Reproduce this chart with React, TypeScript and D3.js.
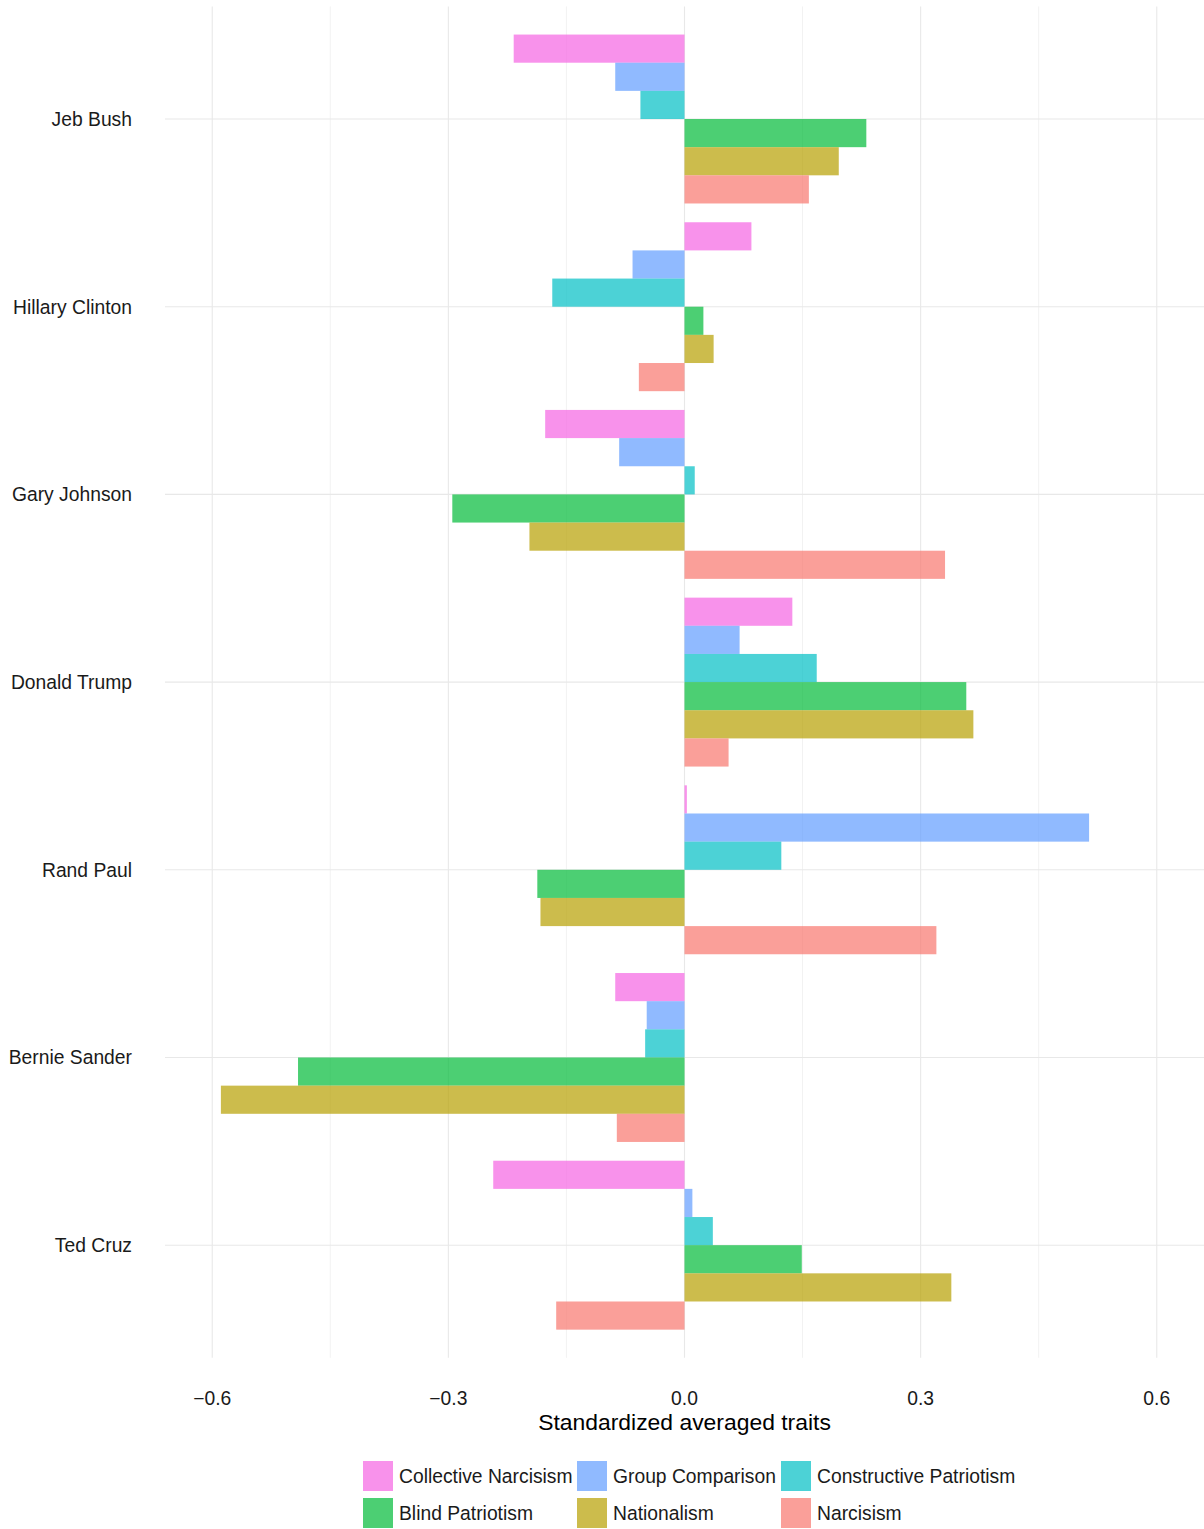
import React from "react";
import * as d3 from "d3";

const categories = ["Jeb Bush", "Hillary Clinton", "Gary Johnson", "Donald Trump", "Rand Paul", "Bernie Sander", "Ted Cruz"];
const traits = ["Collective Narcisism", "Group Comparison", "Constructive Patriotism", "Blind Patriotism", "Nationalism", "Narcisism"];
const traitColors = ["#F564E3", "#619CFF", "#00BFC4", "#00BA38", "#B79F00", "#F8766D"];

const collectiveNarcisism = [-0.217, 0.085, -0.177, 0.137, 0.003, -0.088, -0.243];
const groupComparison = [-0.088, -0.066, -0.083, 0.070, 0.514, -0.048, 0.010];
const constructivePatriotism = [-0.056, -0.168, 0.013, 0.168, 0.123, -0.050, 0.036];
const blindPatriotism = [0.231, 0.024, -0.295, 0.358, -0.187, -0.491, 0.149];
const nationalism = [0.196, 0.037, -0.197, 0.367, -0.183, -0.589, 0.339];
const narcisism = [0.158, -0.058, 0.331, 0.056, 0.320, -0.086, -0.163];

const majorTicks = [-0.6, -0.3, 0.0, 0.3, 0.6];
const minorTicks = [-0.45, -0.15, 0.15, 0.45];

const seriesValues = [collectiveNarcisism, groupComparison, constructivePatriotism, blindPatriotism, nationalism, narcisism];

const W = 1204;
const H = 1529;
const FONT = "'Liberation Sans', Arial, Helvetica, sans-serif";

export default function App() {
  const panelLeft = 165;
  const panelRight = 1204;
  const panelTop = 6.4;
  const panelBottom = 1357.8;

  const x = d3.scaleLinear().domain([-0.66, 0.66]).range([panelLeft, panelRight]);
  const y = d3.scalePoint<string>().domain(categories).range([panelTop, panelBottom]).padding(0.6);
  const step = y.step();
  const groupH = step * 0.9;
  const inner = d3.scaleBand<string>().domain(traits).range([-groupH / 2, groupH / 2]);

  const fmt = (v: number) => (v < 0 ? "\u2212" : "") + d3.format(".1f")(Math.abs(v));

  const legendCols = [363, 577, 781];
  const legendRows = [1461, 1498];

  return (
    <svg width={W} height={H} style={{ position: "absolute", left: 0, top: 0, background: "#fff" }} fontFamily={FONT}>
      <rect x={0} y={0} width={W} height={H} fill="#fff" />
      {minorTicks.map((t) => (
        <line key={"mi" + t} x1={x(t)} x2={x(t)} y1={panelTop} y2={panelBottom} stroke="#f2f2f2" strokeWidth={1} />
      ))}
      {majorTicks.map((t) => (
        <line key={"ma" + t} x1={x(t)} x2={x(t)} y1={panelTop} y2={panelBottom} stroke="#e8e8e8" strokeWidth={1.1} />
      ))}
      {categories.map((c) => (
        <line key={"h" + c} x1={panelLeft} x2={panelRight} y1={y(c)} y2={y(c)} stroke="#e8e8e8" strokeWidth={1.1} />
      ))}
      {categories.map((c, ci) =>
        traits.map((t, ti) => {
          const v = seriesValues[ti][ci];
          const x0 = x(Math.min(0, v));
          const x1 = x(Math.max(0, v));
          return (
            <rect
              key={c + t}
              x={x0}
              width={Math.max(0.5, x1 - x0)}
              y={(y(c) as number) + (inner(t) as number)}
              height={inner.bandwidth()}
              fill={traitColors[ti]}
              fillOpacity={0.7}
            />
          );
        })
      )}
      {categories.map((c) => (
        <text key={"l" + c} x={132} y={(y(c) as number) + 7} textAnchor="end" fontSize={19.3} fill="#1a1a1a">
          {c}
        </text>
      ))}
      {majorTicks.map((t) => (
        <text key={"t" + t} x={x(t)} y={1405} textAnchor="middle" fontSize={19.3} fill="#1a1a1a">
          {fmt(t)}
        </text>
      ))}
      <text x={x(0)} y={1430} textAnchor="middle" fontSize={22.9} fill="#000">
        Standardized averaged traits
      </text>
      {traits.map((t, i) => {
        const col = i % 3;
        const row = Math.floor(i / 3);
        const kx = legendCols[col];
        const ky = legendRows[row];
        return (
          <g key={"lg" + t}>
            <rect x={kx} y={ky} width={30} height={30} fill={traitColors[i]} fillOpacity={0.7} />
            <text x={kx + 36} y={ky + 22} fontSize={19.3} fill="#1a1a1a">
              {t}
            </text>
          </g>
        );
      })}
    </svg>
  );
}
